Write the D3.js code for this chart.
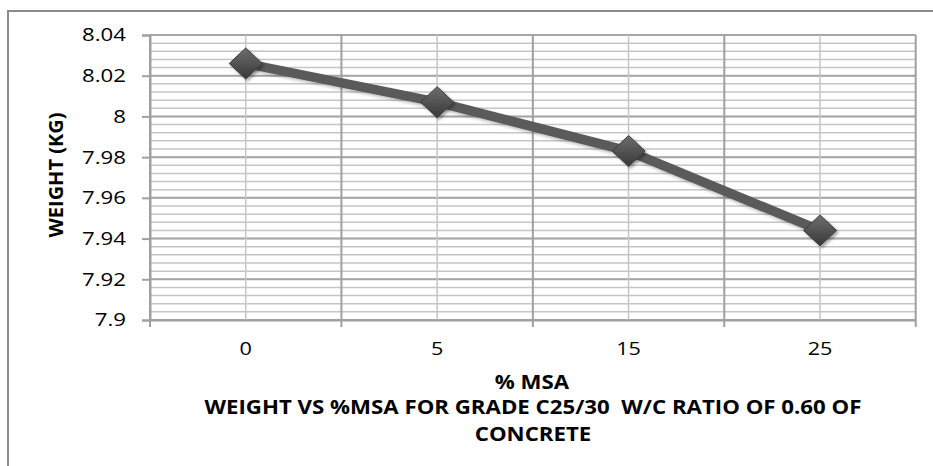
<!DOCTYPE html>
<html>
<head>
<meta charset="utf-8">
<script src="https://cdn.jsdelivr.net/npm/d3@7"></script>
<style>
  html, body { margin: 0; padding: 0; background: #ffffff; }
  svg { display: block; }
  text { font-family: "Open Sans", "Noto Sans", sans-serif; fill: #000; }
</style>
</head>
<body>
<svg id="chart" width="933" height="466"></svg>
<script>
// Weight of concrete cubes at each %MSA replacement level
const categories = ["0", "5", "15", "25"];
const weights = [8.026, 8.007, 7.983, 7.944];
const yTicks = [7.9, 7.92, 7.94, 7.96, 7.98, 8, 8.02, 8.04];
const yDomain = [7.9, 8.04];
const minorStep = 0.004;

const xTitle = "% MSA";
const yTitle = "WEIGHT (KG)";
const titleLines = ["WEIGHT VS %MSA FOR GRADE C25/30  W/C RATIO OF 0.60 OF", "CONCRETE"];

const W = 933, H = 466;
const plot = { left: 150, right: 915.7, top: 35, bottom: 320 };

const svg = d3.select("#chart");

const defs = svg.append("defs");
const grad = defs.append("linearGradient")
  .attr("id", "markerFill").attr("x1", 0).attr("y1", 0).attr("x2", 0).attr("y2", 1);
grad.append("stop").attr("offset", "0%").attr("stop-color", "#6e6e6e");
grad.append("stop").attr("offset", "55%").attr("stop-color", "#505050");
grad.append("stop").attr("offset", "100%").attr("stop-color", "#383838");
const shadow = defs.append("filter").attr("id", "shadow")
  .attr("x", "-50%").attr("y", "-50%").attr("width", "200%").attr("height", "200%");
shadow.append("feDropShadow").attr("dx", 2).attr("dy", 2).attr("stdDeviation", 1.6)
  .attr("flood-color", "#000").attr("flood-opacity", 0.35);
const lineShadow = defs.append("filter").attr("id", "lineShadow")
  .attr("x", "-10%").attr("y", "-20%").attr("width", "120%").attr("height", "140%");
lineShadow.append("feDropShadow").attr("dx", 1).attr("dy", 2).attr("stdDeviation", 1.5)
  .attr("flood-color", "#000").attr("flood-opacity", 0.25);

// Chart frame
svg.append("rect")
  .attr("x", 8).attr("y", 11).attr("width", W + 10).attr("height", H + 10)
  .attr("fill", "#fff").attr("stroke", "#8c8c8c").attr("stroke-width", 2);

const x = d3.scaleBand().domain(categories).range([plot.left, plot.right]);
const y = d3.scaleLinear().domain(yDomain).range([plot.bottom, plot.top]);

// Minor horizontal gridlines
const minorVals = d3.range(Math.round((yDomain[1] - yDomain[0]) / minorStep) + 1)
  .map(i => yDomain[0] + i * minorStep);
const grid = svg.append("g");
grid.selectAll("line.minor").data(minorVals).join("line")
  .attr("x1", plot.left).attr("x2", plot.right)
  .attr("y1", d => y(d)).attr("y2", d => y(d))
  .attr("stroke", "#c6c6c6").attr("stroke-width", 1.5);
// Major horizontal gridlines
grid.selectAll("line.major").data(yTicks).join("line")
  .attr("x1", plot.left).attr("x2", plot.right)
  .attr("y1", d => y(d)).attr("y2", d => y(d))
  .attr("stroke", "#a6a6a6").attr("stroke-width", 2);
// Vertical gridlines at category centres
grid.selectAll("line.vc").data(categories).join("line")
  .attr("x1", d => x(d) + x.bandwidth() / 2).attr("x2", d => x(d) + x.bandwidth() / 2)
  .attr("y1", plot.top).attr("y2", plot.bottom)
  .attr("stroke", "#c6c6c6").attr("stroke-width", 1.5);
// Vertical gridlines at category boundaries, with tick marks below the axis
const bounds = categories.map(d => x(d)).concat([plot.right]);
grid.selectAll("line.vb").data(bounds).join("line")
  .attr("x1", d => d).attr("x2", d => d)
  .attr("y1", plot.top).attr("y2", plot.bottom + 7)
  .attr("stroke", "#a0a0a0").attr("stroke-width", 2);

// Y axis
const yAxis = svg.append("g")
  .attr("transform", `translate(${plot.left},0)`)
  .call(d3.axisLeft(y).tickValues(yTicks).tickSize(8).tickPadding(16).tickFormat(d3.format("~g")));
yAxis.select(".domain").attr("stroke", "#a0a0a0").attr("stroke-width", 2);
yAxis.selectAll(".tick line").attr("stroke", "#a0a0a0").attr("stroke-width", 2);
yAxis.selectAll(".tick text").attr("data-widen", 1.2).attr("font-size", 18.5).attr("fill", "#222")
  .style("font-family", '"Open Sans", sans-serif');

// X axis
const xAxis = svg.append("g")
  .attr("transform", `translate(0,${plot.bottom})`)
  .call(d3.axisBottom(x).tickSize(0).tickPadding(22));
xAxis.select(".domain").attr("stroke", "#a0a0a0").attr("stroke-width", 2);
xAxis.selectAll(".tick text").attr("data-widen", 1.2).attr("font-size", 18).attr("fill", "#222")
  .style("font-family", '"Open Sans", sans-serif');

// Series line and markers
const cx = d => x(d) + x.bandwidth() / 2;
const pts = categories.map((c, i) => [cx(c), y(weights[i])]);
svg.append("path")
  .attr("d", d3.line()(pts))
  .attr("fill", "none").attr("stroke", "#5a5a5a").attr("stroke-width", 9.5)
  .attr("stroke-linejoin", "round")
  .attr("filter", "url(#lineShadow)");

const mw = 16.5, mh = 15.5;
svg.selectAll("path.marker").data(pts).join("path")
  .attr("class", "marker")
  .attr("d", d => `M${d[0]},${d[1] - mh}L${d[0] + mw},${d[1]}L${d[0]},${d[1] + mh}L${d[0] - mw},${d[1]}Z`)
  .attr("fill", "url(#markerFill)").attr("stroke", "#3c3c3c").attr("stroke-width", 1)
  .attr("filter", "url(#shadow)");

// Titles
svg.append("text")
  .attr("data-widen", 1.14)
  .attr("x", 532).attr("y", 389)
  .attr("text-anchor", "middle").attr("font-size", 19.5).attr("font-weight", "bold")
  .text(xTitle);

svg.selectAll("text.title").data(titleLines).join("text")
  .attr("class", "title")
  .attr("data-widen", 1.14)
  .attr("x", 533).attr("y", (d, i) => 414 + i * 26.5)
  .attr("text-anchor", "middle").attr("font-size", 19.5).attr("font-weight", "bold")
  .style("white-space", "pre")
  .text(d => d);

svg.append("text")
  .attr("transform", `translate(63,175) rotate(-90)`)
  .attr("text-anchor", "middle").attr("font-size", 20).attr("font-weight", "bold")
  .text(yTitle);

// Stretch horizontal text to the wider glyph proportions
svg.selectAll("text[data-widen]").each(function () {
  const len = this.getComputedTextLength();
  const k = +this.getAttribute("data-widen");
  d3.select(this).attr("textLength", len * k).attr("lengthAdjust", "spacingAndGlyphs");
});
</script>
</body>
</html>
